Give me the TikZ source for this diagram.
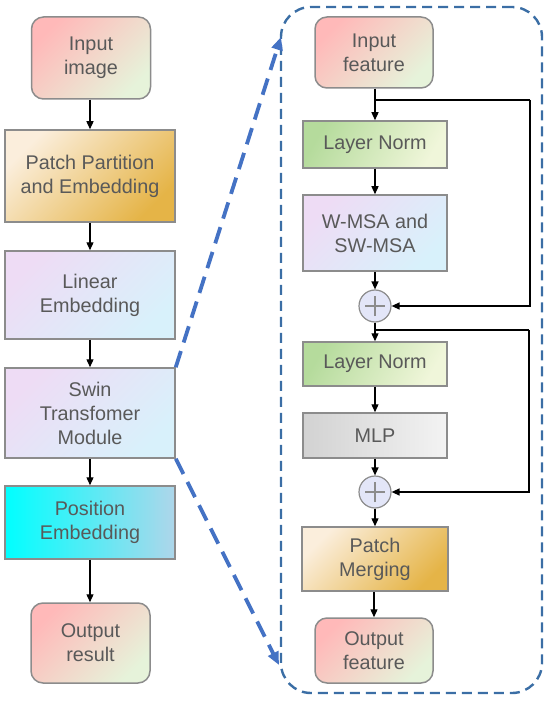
\documentclass[tikz,border=0pt]{standalone}
\usepackage{fontspec}
\setmainfont{Liberation Sans}
\usetikzlibrary{arrows.meta}
\definecolor{txt}{HTML}{595959}
\definecolor{bord}{HTML}{8C8C8C}
\definecolor{pinkA}{HTML}{FFB9B9}
\definecolor{creamA}{HTML}{F7E6D2}
\definecolor{greenA}{HTML}{E6F3DA}
\definecolor{goldA}{HTML}{FBEEDC}
\definecolor{goldB}{HTML}{E5B447}
\definecolor{lavA}{HTML}{EEDCF5}
\definecolor{cyanA}{HTML}{D8F1FB}
\definecolor{cyanP}{HTML}{00FFFF}
\definecolor{blueP}{HTML}{AED6EA}
\definecolor{lnA}{HTML}{B5DB9C}
\definecolor{lnB}{HTML}{F0F6DA}
\definecolor{mlpA}{HTML}{D2D2D2}
\definecolor{mlpB}{HTML}{F3F3F3}
\definecolor{plusF}{HTML}{E3E6F8}
\definecolor{dashB}{HTML}{3B6EA5}
\definecolor{arrB}{HTML}{4472C4}
\tikzset{
  box/.style={draw=bord, line width=1.5pt, text=txt, align=center, font=\fontsize{19.8pt}{24pt}\selectfont, inner sep=0pt},
  term/.style={box, rounded corners=12pt, top color=pinkA, middle color=creamA, bottom color=greenA, shading angle=45},
  goldbox/.style={box, top color=goldA, bottom color=goldB, shading angle=45},
  lavbox/.style={box, top color=lavA, bottom color=cyanA, shading angle=45},
  lnbox/.style={box, top color=lnA, bottom color=lnB, shading angle=60},
  mlpbox/.style={box, left color=mlpA, right color=mlpB},
  posbox/.style={box, left color=cyanP, right color=blueP},
  plusnode/.style={circle, draw=bord, line width=1.2pt, fill=plusF, minimum size=32pt, inner sep=0pt},
  flow/.style={-{Triangle[length=8pt,width=7pt]}, line width=1.3pt, black},
  skip/.style={line width=1.3pt, black},
  bigarrow/.style={arrB, line width=3.8pt, dash pattern=on 17pt off 9pt, -{Triangle[length=13pt,width=11pt]}},
}
\begin{document}
\begin{tikzpicture}[x=1pt,y=-1pt]
\useasboundingbox (0,0) rectangle (550,703);
% left column
\node[term, minimum width=119pt, minimum height=82pt] (inimg) at (91,58) {Input\\image};
\node[goldbox, minimum width=170pt, minimum height=92pt] (patch) at (90,176) {Patch Partition\\and Embedding};
\node[lavbox, minimum width=170pt, minimum height=88pt] (linemb) at (90,295) {Linear\\Embedding};
\node[lavbox, minimum width=170pt, minimum height=90pt] (swin) at (90,413) {Swin\\Transfomer\\Module};
\node[posbox, minimum width=170pt, minimum height=73pt] (posemb) at (90,522.5) {Position\\Embedding};
\node[term, minimum width=119pt, minimum height=80pt] (outres) at (90.5,643) {Output\\result};
\draw[flow] (inimg.south -| patch.north) -- (patch.north);
\draw[flow] (patch) -- (linemb);
\draw[flow] (linemb) -- (swin);
\draw[flow] (swin) -- (posemb);
\draw[flow] (posemb) -- (outres.north -| posemb.south);
% right container
\node[draw=dashB, line width=2.4pt, dash pattern=on 10pt off 6pt, rounded corners=30pt, minimum width=261pt, minimum height=686pt, inner sep=0pt] (frame) at (411.5,350) {};
% right column
\node[term, minimum width=118pt, minimum height=71pt] (infeat) at (374,52.5) {Input\\feature};
\node[lnbox, minimum width=144pt, minimum height=47pt] (ln1) at (375,144.5) {Layer Norm};
\node[lavbox, minimum width=144pt, minimum height=76pt] (wmsa) at (375,233) {W-MSA and\\SW-MSA};
\node[plusnode] (plus1) at (375,306) {};
\node[lnbox, minimum width=144pt, minimum height=44pt] (ln2) at (375,364) {Layer Norm};
\node[mlpbox, minimum width=144pt, minimum height=45pt] (mlp) at (375,435.5) {MLP};
\node[plusnode] (plus2) at (375,492) {};
\node[goldbox, minimum width=146pt, minimum height=64pt] (pmerge) at (375,559) {Patch\\Merging};
\node[term, minimum width=118pt, minimum height=65pt] (outfeat) at (374,650.5) {Output\\feature};
% plus signs
\foreach \p in {plus1,plus2}{
  \draw[bord, line width=1.2pt] ([xshift=-10pt]\p.center) -- ([xshift=10pt]\p.center);
  \draw[bord, line width=1.2pt] ([yshift=-10pt]\p.center) -- ([yshift=10pt]\p.center);
}
\coordinate (s1) at (375,100);
\coordinate (r1) at (530,100);
\coordinate (s2) at (375,330);
\coordinate (r2) at (529,330);
\draw[flow] (infeat.south -| ln1.north) -- (ln1.north);
\draw[flow] (ln1) -- (wmsa);
\draw[flow] (wmsa) -- (plus1);
\draw[flow] (plus1) -- (ln2);
\draw[flow] (ln2) -- (mlp);
\draw[flow] (mlp) -- (plus2);
\draw[flow] (plus2) -- (pmerge);
\draw[flow] (pmerge.south -| outfeat.north) -- (outfeat.north);
\draw[skip] (s1) -- (r1);
\draw[flow] (r1) |- (plus1.east);
\draw[skip] (s2) -- (r2);
\draw[flow] (r2) |- (plus2.east);
% blue zoom arrows
\coordinate (t1) at (281,37);
\coordinate (t2) at (279,665);
\draw[bigarrow] (swin.north east) -- (t1);
\draw[bigarrow] (swin.south east) -- (t2);
\end{tikzpicture}
\end{document}
